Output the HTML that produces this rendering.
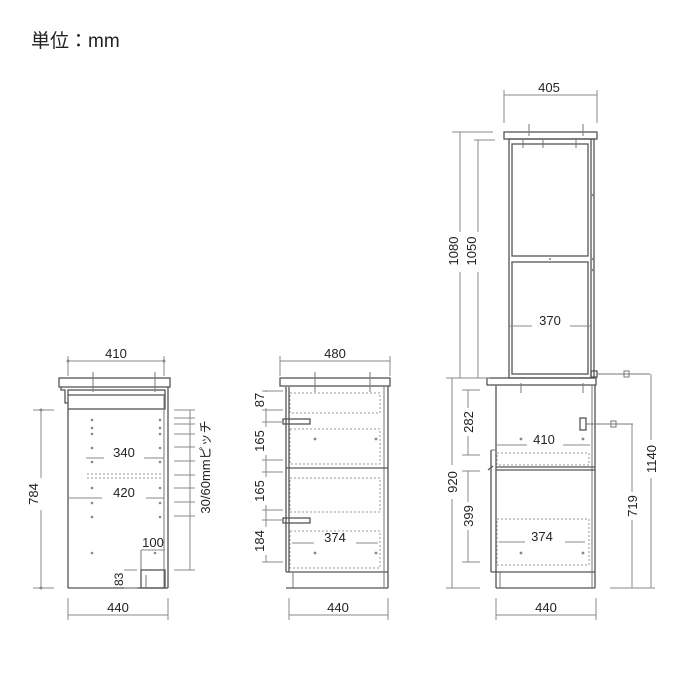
<!DOCTYPE html>
<html><head><meta charset="utf-8"><style>
html,body{margin:0;padding:0;background:#fff;}
svg{display:block;}
text{font-family:"Liberation Sans","Noto Sans CJK JP",sans-serif;fill:#222;}
.d{stroke:#8a8a8a;stroke-width:1;fill:none}
.o{stroke:#555;stroke-width:1.3;fill:none}
.t{stroke:#777;stroke-width:1;fill:none}
.h{stroke:#999;stroke-width:1;fill:none;stroke-dasharray:2 2}
.p{fill:#888}
</style></head><body>
<svg width="700" height="700" viewBox="0 0 700 700" xmlns="http://www.w3.org/2000/svg">
<text x="31" y="47" font-size="19">単位：mm</text>

<!-- ===== LEFT CABINET ===== -->
<line class="d" x1="68" y1="361" x2="164" y2="361"/><circle class="p" cx="68" cy="361" r="1.5"/><circle class="p" cx="164" cy="361" r="1.5"/>
<line class="d" x1="68" y1="356" x2="68" y2="376"/><line class="d" x1="164" y1="356" x2="164" y2="376"/>
<text x="116" y="358" font-size="13" text-anchor="middle">410</text>
<rect class="o" x="59" y="378" width="111" height="9"/>
<path class="o" d="M61 387 L61 390 L65 390 L65 403 L68 403"/>
<rect class="o" x="68" y="390" width="97" height="19"/>
<line class="o" x1="68" y1="395" x2="165" y2="395"/>
<line class="o" x1="68" y1="409" x2="68" y2="588"/>
<line class="o" x1="168" y1="387" x2="168" y2="588"/>
<line class="t" x1="164" y1="395" x2="164" y2="588"/>
<line class="o" x1="68" y1="588" x2="168" y2="588"/>
<line class="t" x1="93" y1="372" x2="93" y2="392"/><line class="t" x1="155" y1="372" x2="155" y2="392"/>
<line class="h" x1="87" y1="474" x2="163" y2="474"/><line class="h" x1="87" y1="478" x2="163" y2="478"/>
<g class="p">
<circle cx="92" cy="420" r="1.3"/><circle cx="92" cy="428" r="1.3"/><circle cx="92" cy="434" r="1.3"/><circle cx="92" cy="448" r="1.3"/><circle cx="92" cy="462" r="1.3"/><circle cx="92" cy="488" r="1.3"/><circle cx="92" cy="503" r="1.3"/><circle cx="92" cy="517" r="1.3"/><circle cx="92" cy="553" r="1.3"/>
<circle cx="160" cy="420" r="1.3"/><circle cx="160" cy="428" r="1.3"/><circle cx="160" cy="434" r="1.3"/><circle cx="160" cy="448" r="1.3"/><circle cx="160" cy="462" r="1.3"/><circle cx="160" cy="488" r="1.3"/><circle cx="160" cy="503" r="1.3"/><circle cx="160" cy="517" r="1.3"/><circle cx="155" cy="553" r="1.3"/>
</g>
<line class="d" x1="86" y1="458" x2="164" y2="458"/><rect x="104" y="448" width="40" height="14" fill="#fff"/>
<text x="124" y="457" font-size="13" text-anchor="middle">340</text>
<line class="d" x1="68" y1="498" x2="164" y2="498"/><rect x="102" y="488" width="44" height="14" fill="#fff"/>
<text x="124" y="497" font-size="13" text-anchor="middle">420</text>
<text x="153" y="547" font-size="13" text-anchor="middle">100</text>
<line class="d" x1="141" y1="550" x2="165" y2="550"/>
<line class="t" x1="141" y1="550" x2="141" y2="588"/>
<rect class="o" x="141" y="570" width="24" height="18"/><line class="t" x1="146" y1="575" x2="146" y2="588"/>
<line class="d" x1="124" y1="570" x2="137" y2="570"/><line class="d" x1="124" y1="588" x2="137" y2="588"/>
<text x="0" y="0" font-size="12" transform="translate(123,586) rotate(-90)">83</text>
<!-- 784 -->
<line class="d" x1="41" y1="410" x2="41" y2="588"/><line class="d" x1="33" y1="410" x2="54" y2="410"/><line class="d" x1="33" y1="588" x2="54" y2="588"/>
<circle class="p" cx="41" cy="410" r="1.5"/><circle class="p" cx="41" cy="588" r="1.5"/>
<rect x="28" y="478" width="20" height="32" fill="#fff"/>
<text font-size="13" text-anchor="middle" transform="translate(38,494) rotate(-90)">784</text>
<!-- pitch -->
<line class="d" x1="190" y1="410" x2="190" y2="570"/>
<g class="d">
<line x1="174" y1="410" x2="195" y2="410"/><line x1="174" y1="418" x2="195" y2="418"/><line x1="174" y1="424" x2="195" y2="424"/><line x1="174" y1="434" x2="195" y2="434"/><line x1="174" y1="447" x2="195" y2="447"/><line x1="174" y1="461" x2="195" y2="461"/><line x1="174" y1="475" x2="195" y2="475"/><line x1="174" y1="488" x2="195" y2="488"/><line x1="174" y1="502" x2="195" y2="502"/><line x1="174" y1="516" x2="195" y2="516"/><line x1="174" y1="570" x2="195" y2="570"/>
</g>
<text font-size="13" text-anchor="middle" transform="translate(210,467) rotate(-90)">30/60mmピッチ</text>
<line class="d" x1="68" y1="615" x2="168" y2="615"/><line class="d" x1="68" y1="598" x2="68" y2="620"/><line class="d" x1="168" y1="598" x2="168" y2="620"/>
<text x="118" y="612" font-size="13" text-anchor="middle">440</text>

<!-- ===== MIDDLE CABINET ===== -->
<line class="d" x1="280" y1="361" x2="390" y2="361"/><line class="d" x1="280" y1="356" x2="280" y2="376"/><line class="d" x1="390" y1="356" x2="390" y2="376"/>
<text x="335" y="358" font-size="13" text-anchor="middle">480</text>
<rect class="o" x="280" y="378" width="110" height="8"/>
<line class="t" x1="315" y1="372" x2="315" y2="392"/><line class="t" x1="370" y1="372" x2="370" y2="392"/>
<line class="o" x1="286" y1="387" x2="286" y2="572"/>
<line class="o" x1="289" y1="387" x2="289" y2="572"/>
<line class="o" x1="388" y1="386" x2="388" y2="588"/>
<line class="t" x1="384" y1="386" x2="384" y2="572"/>
<line class="o" x1="286" y1="468" x2="388" y2="468"/>
<line class="o" x1="286" y1="572" x2="388" y2="572"/>
<line class="o" x1="286" y1="588" x2="388" y2="588"/>
<line class="t" x1="293" y1="572" x2="293" y2="588"/><line class="t" x1="384" y1="572" x2="384" y2="588"/>
<rect class="h" x="290" y="393" width="90" height="20"/>
<rect class="h" x="290" y="429" width="90" height="35"/>
<rect class="h" x="290" y="478" width="90" height="34"/>
<rect class="h" x="290" y="531" width="90" height="37"/>
<rect class="o" x="283" y="419" width="27" height="5"/><rect class="o" x="283" y="518" width="27" height="5"/>
<g class="p"><circle cx="315" cy="439" r="1.4"/><circle cx="376" cy="439" r="1.4"/><circle cx="315" cy="553" r="1.4"/><circle cx="376" cy="553" r="1.4"/></g>
<line class="d" x1="292" y1="543" x2="378" y2="543"/><rect x="314" y="532" width="42" height="14" fill="#fff"/>
<text x="335" y="542" font-size="13" text-anchor="middle">374</text>
<line class="d" x1="266" y1="391" x2="266" y2="562"/>
<g class="d"><line x1="262" y1="391" x2="283" y2="391"/><line x1="262" y1="410" x2="283" y2="410"/><line x1="262" y1="422" x2="283" y2="422"/><line x1="262" y1="460" x2="283" y2="460"/><line x1="262" y1="472" x2="283" y2="472"/><line x1="262" y1="510" x2="283" y2="510"/><line x1="262" y1="520" x2="283" y2="520"/><line x1="262" y1="562" x2="283" y2="562"/></g>
<g fill="#fff"><rect x="257" y="392" width="18" height="16"/><rect x="257" y="427" width="18" height="28"/><rect x="257" y="477" width="18" height="28"/><rect x="257" y="527" width="18" height="28"/></g>
<g font-size="13" text-anchor="middle">
<text transform="translate(264,400) rotate(-90)">87</text>
<text transform="translate(264,441) rotate(-90)">165</text>
<text transform="translate(264,491) rotate(-90)">165</text>
<text transform="translate(264,541) rotate(-90)">184</text>
</g>
<line class="d" x1="289" y1="615" x2="388" y2="615"/><line class="d" x1="289" y1="598" x2="289" y2="620"/><line class="d" x1="388" y1="598" x2="388" y2="620"/>
<text x="338" y="612" font-size="13" text-anchor="middle">440</text>

<!-- ===== RIGHT CABINET ===== -->
<line class="d" x1="504" y1="95" x2="597" y2="95"/><line class="d" x1="504" y1="90" x2="504" y2="123"/><line class="d" x1="597" y1="90" x2="597" y2="123"/>
<text x="549" y="92" font-size="13" text-anchor="middle">405</text>
<rect class="o" x="504" y="132" width="93" height="7"/>
<rect class="o" x="509" y="139" width="85" height="239"/>
<rect class="o" x="512" y="144" width="76" height="112"/>
<rect class="o" x="512" y="262" width="76" height="112"/>
<line class="o" x1="591" y1="139" x2="591" y2="378"/>
<g class="t"><line x1="529" y1="124" x2="529" y2="136"/><line x1="583" y1="124" x2="583" y2="136"/><line x1="523" y1="139" x2="523" y2="148"/><line x1="543" y1="139" x2="543" y2="148"/><line x1="576" y1="139" x2="576" y2="148"/></g>
<g class="p"><circle cx="592" cy="195" r="1.3"/><circle cx="592" cy="259" r="1.3"/><circle cx="550" cy="259" r="1"/><circle cx="592" cy="270" r="1.3"/></g>
<line class="d" x1="508" y1="326" x2="592" y2="326"/><rect x="532" y="314" width="38" height="15" fill="#fff"/>
<text x="550" y="325" font-size="13" text-anchor="middle">370</text>
<!-- 1080 / 1050 -->
<line class="d" x1="460" y1="132" x2="460" y2="378"/><line class="d" x1="452" y1="132" x2="493" y2="132"/>
<line class="d" x1="478" y1="140" x2="478" y2="378"/><line class="d" x1="474" y1="140" x2="495" y2="140"/>
<rect x="446" y="232" width="38" height="40" fill="#fff"/>
<g font-size="13" text-anchor="middle"><text transform="translate(458,251) rotate(-90)">1080</text><text transform="translate(476,251) rotate(-90)">1050</text></g>
<!-- plug top -->
<rect class="o" x="591" y="371" width="6" height="6"/>
<line class="t" x1="597" y1="374" x2="650" y2="374"/><rect class="t" x="624" y="371" width="5" height="6"/>
<!-- lower -->
<rect class="o" x="487" y="378" width="109" height="7"/>
<line class="o" x1="496" y1="385" x2="496" y2="588"/>
<line class="o" x1="595" y1="385" x2="595" y2="588"/>
<line class="t" x1="592" y1="385" x2="592" y2="572"/>
<line class="t" x1="521" y1="383" x2="521" y2="393"/><line class="t" x1="583" y1="383" x2="583" y2="393"/>
<line class="o" x1="496" y1="467" x2="595" y2="467"/><line class="o" x1="496" y1="470" x2="595" y2="470"/>
<rect class="h" x="497" y="453" width="92" height="12"/>
<rect class="h" x="497" y="519" width="92" height="46"/>
<line class="o" x1="491" y1="450" x2="491" y2="572"/><line class="t" x1="491" y1="450" x2="496" y2="450"/>
<path class="o" d="M488 470 L493 466"/>
<line class="o" x1="491" y1="572" x2="595" y2="572"/>
<line class="o" x1="496" y1="588" x2="595" y2="588"/>
<line class="t" x1="500" y1="572" x2="500" y2="588"/><line class="t" x1="592" y1="572" x2="592" y2="588"/>
<rect class="o" x="580" y="418" width="6" height="12"/>
<line class="t" x1="586" y1="424" x2="633" y2="424"/><rect class="t" x="611" y="421" width="5" height="6"/>
<g class="p"><circle cx="521" cy="439" r="1.4"/><circle cx="583" cy="439" r="1.4"/><circle cx="521" cy="553" r="1.4"/><circle cx="583" cy="553" r="1.4"/></g>
<line class="d" x1="496" y1="445" x2="590" y2="445"/><rect x="527" y="432" width="36" height="15" fill="#fff"/>
<text x="544" y="444" font-size="13" text-anchor="middle">410</text>
<line class="d" x1="499" y1="542" x2="585" y2="542"/><rect x="525" y="530" width="40" height="15" fill="#fff"/>
<text x="542" y="541" font-size="13" text-anchor="middle">374</text>
<!-- dims -->
<line class="d" x1="452" y1="378" x2="452" y2="588"/><line class="d" x1="446" y1="378" x2="490" y2="378"/><line class="d" x1="446" y1="588" x2="480" y2="588"/>
<line class="d" x1="468" y1="390" x2="468" y2="455"/><line class="d" x1="462" y1="390" x2="480" y2="390"/><line class="d" x1="462" y1="455" x2="480" y2="455"/>
<line class="d" x1="468" y1="471" x2="468" y2="562"/><line class="d" x1="462" y1="471" x2="480" y2="471"/><line class="d" x1="462" y1="562" x2="480" y2="562"/>
<line class="d" x1="651" y1="374" x2="651" y2="588"/><line class="d" x1="610" y1="588" x2="655" y2="588"/>
<line class="d" x1="632" y1="424" x2="632" y2="588"/>
<g fill="#fff"><rect x="444" y="465" width="16" height="34"/><rect x="460" y="408" width="16" height="28"/><rect x="460" y="502" width="16" height="28"/><rect x="643" y="440" width="16" height="38"/><rect x="624" y="492" width="16" height="28"/></g>
<g font-size="13" text-anchor="middle">
<text transform="translate(457,482) rotate(-90)">920</text>
<text transform="translate(473,422) rotate(-90)">282</text>
<text transform="translate(473,516) rotate(-90)">399</text>
<text transform="translate(656,459) rotate(-90)">1140</text>
<text transform="translate(637,506) rotate(-90)">719</text>
</g>
<line class="d" x1="496" y1="615" x2="596" y2="615"/><line class="d" x1="496" y1="598" x2="496" y2="620"/><line class="d" x1="596" y1="598" x2="596" y2="620"/>
<text x="546" y="612" font-size="13" text-anchor="middle">440</text>
</svg>
</body></html>
